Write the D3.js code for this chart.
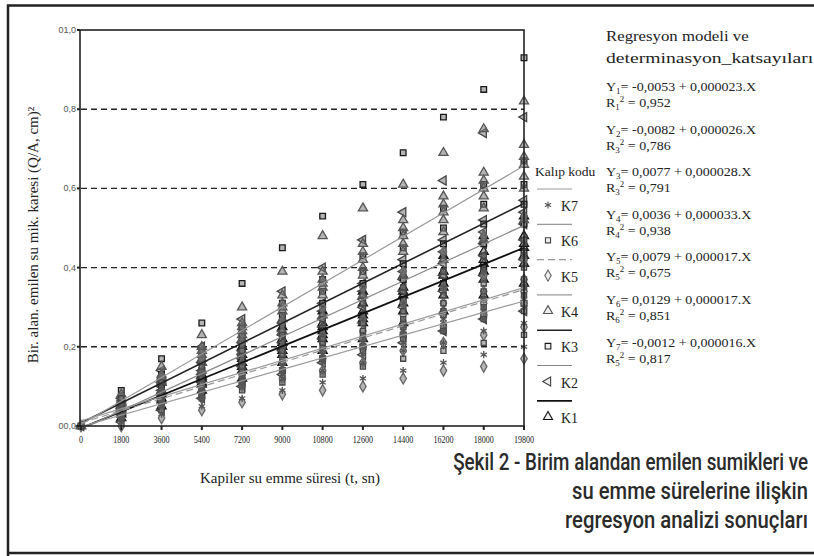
<!DOCTYPE html>
<html>
<head>
<meta charset="utf-8">
<script src="https://cdn.jsdelivr.net/npm/d3@7/dist/d3.min.js"></script>
<style>body{margin:0;background:#fff;}</style>
</head>
<body>
<svg id="svg" width="814" height="556"></svg>
<script>
// x values (s) and axis labels
const times=[0,1800,3600,5400,7200,9000,10800,12600,14400,16200,18000,19800];
const xTickLabels=["0","1800","3600","5400","7200","9000","10800","12600","14400","16200","18000","19800"];
const yTicks=[0,0.2,0.4,0.6,0.8,1.0];
const yTickLabels=["00,0","0,2","0,4","0,6","0,8","01,0"];
const gridValues=[0.2,0.4,0.6,0.8];

// regression models K1..K7
const series=["K1","K2","K3","K4","K5","K6","K7"];
const intercepts=[-0.0053,-0.0082,0.0077,0.0036,0.0079,0.0129,-0.0012];
const slopes=[0.000023,0.000026,0.000028,0.000033,0.000017,0.000017,0.000016];
const r2=["0,952","0,786","0,791","0,938","0,675","0,851","0,817"];
const rSub=["1","3","3","4","5","6","5"];

// measured points, one list per time
const k1=[[0],[0.02,0.03,0.035,0.04,0.045,0.05,0.06],[0.05,0.065,0.07,0.08,0.085,0.09,0.11],[0.09,0.105,0.11,0.12,0.125,0.13,0.16],[0.12,0.14,0.15,0.16,0.17,0.18,0.20],[0.16,0.18,0.19,0.20,0.21,0.22,0.25],[0.19,0.22,0.23,0.24,0.25,0.26,0.29],[0.22,0.26,0.27,0.28,0.29,0.31,0.34],[0.26,0.29,0.31,0.33,0.34,0.35,0.38],[0.29,0.33,0.35,0.36,0.38,0.39,0.43],[0.33,0.37,0.39,0.41,0.42,0.44,0.48],[0.36,0.41,0.43,0.45,0.46,0.48,0.53]];
const k2=[[0],[0.01,0.03,0.035,0.04,0.045,0.05,0.07],[0.04,0.07,0.08,0.09,0.10,0.11,0.14],[0.07,0.11,0.12,0.13,0.14,0.16,0.20],[0.10,0.15,0.17,0.18,0.19,0.21,0.27],[0.13,0.19,0.21,0.23,0.24,0.26,0.34],[0.16,0.22,0.25,0.27,0.29,0.31,0.40],[0.18,0.26,0.30,0.32,0.34,0.36,0.47],[0.21,0.30,0.34,0.37,0.39,0.42,0.54],[0.24,0.34,0.38,0.41,0.44,0.47,0.62],[0.27,0.38,0.43,0.46,0.49,0.52,0.74],[0.29,0.42,0.47,0.51,0.54,0.57,0.78]];
const k3=[[0],[0.02,0.04,0.05,0.06,0.065,0.07,0.09],[0.05,0.08,0.10,0.11,0.12,0.13,0.17],[0.08,0.12,0.14,0.16,0.17,0.19,0.26],[0.11,0.16,0.19,0.21,0.23,0.25,0.36],[0.14,0.20,0.24,0.26,0.28,0.31,0.45],[0.17,0.24,0.28,0.31,0.34,0.37,0.53],[0.20,0.28,0.33,0.36,0.39,0.43,0.61],[0.23,0.32,0.37,0.41,0.45,0.49,0.69],[0.25,0.36,0.42,0.46,0.50,0.55,0.78],[0.28,0.40,0.46,0.51,0.56,0.61,0.85],[0.31,0.44,0.51,0.56,0.61,0.67,0.93]];
const k4=[[0],[0.04,0.05,0.055,0.06,0.065,0.07,0.08],[0.09,0.11,0.115,0.12,0.125,0.13,0.15],[0.14,0.16,0.17,0.18,0.19,0.20,0.23],[0.19,0.22,0.23,0.24,0.25,0.26,0.30],[0.24,0.27,0.29,0.30,0.31,0.33,0.39],[0.28,0.33,0.35,0.36,0.37,0.39,0.48],[0.33,0.38,0.40,0.42,0.44,0.46,0.55],[0.38,0.44,0.46,0.48,0.50,0.52,0.61],[0.42,0.49,0.52,0.54,0.56,0.58,0.69],[0.47,0.55,0.58,0.60,0.62,0.64,0.75],[0.52,0.60,0.63,0.66,0.68,0.71,0.82]];
const k5=[[0],[0.00,0.02,0.03,0.04,0.045,0.05,0.07],[0.02,0.05,0.06,0.07,0.08,0.09,0.12],[0.04,0.07,0.09,0.10,0.11,0.13,0.17],[0.06,0.10,0.12,0.13,0.14,0.16,0.21],[0.08,0.12,0.14,0.16,0.18,0.20,0.26],[0.09,0.14,0.17,0.19,0.21,0.23,0.30],[0.10,0.16,0.20,0.22,0.24,0.27,0.35],[0.12,0.19,0.23,0.25,0.28,0.31,0.39],[0.14,0.21,0.25,0.28,0.31,0.35,0.44],[0.15,0.23,0.28,0.31,0.34,0.38,0.48],[0.17,0.25,0.31,0.34,0.37,0.42,0.53]];
const k6=[[0],[0.02,0.03,0.04,0.045,0.05,0.055,0.07],[0.04,0.06,0.07,0.075,0.08,0.09,0.11],[0.07,0.09,0.10,0.105,0.11,0.12,0.15],[0.09,0.12,0.13,0.135,0.14,0.15,0.19],[0.11,0.14,0.16,0.17,0.18,0.19,0.23],[0.13,0.17,0.19,0.20,0.21,0.22,0.27],[0.15,0.19,0.22,0.23,0.24,0.26,0.31],[0.17,0.22,0.25,0.26,0.27,0.29,0.35],[0.19,0.24,0.28,0.29,0.31,0.33,0.39],[0.21,0.27,0.30,0.32,0.34,0.36,0.43],[0.23,0.29,0.33,0.35,0.37,0.40,0.47]];
const k7=[[0],[0.01,0.02,0.025,0.03,0.035,0.04,0.05],[0.03,0.05,0.055,0.06,0.065,0.07,0.09],[0.05,0.07,0.08,0.09,0.095,0.10,0.13],[0.07,0.10,0.105,0.11,0.12,0.13,0.16],[0.09,0.12,0.13,0.14,0.15,0.16,0.20],[0.11,0.14,0.16,0.17,0.18,0.19,0.23],[0.12,0.16,0.18,0.20,0.21,0.22,0.27],[0.14,0.19,0.21,0.23,0.24,0.25,0.31],[0.16,0.21,0.24,0.26,0.27,0.29,0.35],[0.18,0.24,0.27,0.29,0.30,0.32,0.39],[0.20,0.26,0.30,0.32,0.33,0.35,0.43]];
const points=[k1,k2,k3,k4,k5,k6,k7];

// styles per series (K1..K7)
const markColor=["#111","#444","#1a1a1a","#555","#666","#444","#555"];
const lineColor=["#111","#888","#222","#999","#999","#999","#999"];
const lineWidth=[1.8,1.2,1.6,1.2,1.2,1.2,1.2];
const lineDash=[null,null,null,null,"7,4",null,null];
const shapes=[d3.symbolTriangle,d3.symbolTriangle,d3.symbolSquare,d3.symbolTriangle,d3.symbolDiamond,d3.symbolSquare,d3.symbolAsterisk];
const rotate=[0,-90,0,0,0,0,0];
const sizes=[36,36,32,36,36,26,36];

const serif="'Liberation Serif','Times New Roman',serif";
const svg=d3.select("#svg");

// outer frame
svg.append("path").attr("d","M8,556 L8,5.5 L814,5.5 M8,553 L814,553").attr("fill","none").attr("stroke","#222").attr("stroke-width",2.5);

const x=d3.scaleLinear().domain([0,19800]).range([81,524]);
const y=d3.scaleLinear().domain([0,1]).range([426,30]);

svg.append("clipPath").attr("id","plot").append("rect").attr("x",80).attr("y",30).attr("width",445).attr("height",396);

// dashed grid
svg.selectAll(".grid").data(gridValues).enter().append("line")
    .attr("x1",x(0)).attr("x2",x(19800)).attr("y1",d=>y(d)).attr("y2",d=>y(d))
    .attr("stroke","#222").attr("stroke-width",1.4).attr("stroke-dasharray","6,4");

// points
for(let s=0;s<series.length;s++)
{
    let sym=d3.symbol().type(shapes[s]).size(sizes[s]);
    for(let t=0;t<times.length;t++)
    {
        for(let v of points[s][t])
        {
            svg.append("path").attr("d",sym())
                .attr("transform","translate("+x(times[t])+","+y(v)+") rotate("+rotate[s]+")")
                .attr("fill","#777").attr("fill-opacity",0.55)
                .attr("stroke",markColor[s]).attr("stroke-width",1.3);
        }
    }
}

// regression lines
for(let s=0;s<series.length;s++)
{
    svg.append("line").attr("clip-path","url(#plot)")
        .attr("x1",x(0)).attr("y1",y(intercepts[s]))
        .attr("x2",x(19800)).attr("y2",y(intercepts[s]+slopes[s]*19800))
        .attr("stroke",lineColor[s]).attr("stroke-width",lineWidth[s])
        .attr("stroke-dasharray",lineDash[s]);
}

// plot box
svg.append("rect").attr("x",80).attr("y",30).attr("width",444).attr("height",396)
    .attr("fill","none").attr("stroke","#222").attr("stroke-width",1.6);

// x ticks
svg.selectAll(".xt").data(times).enter().append("line")
    .attr("x1",d=>x(d)).attr("x2",d=>x(d)).attr("y1",426).attr("y2",430)
    .attr("stroke","#222").attr("stroke-width",2);
svg.selectAll(".xl").data(times).enter().append("text")
    .attr("x",0).attr("y",0).attr("text-anchor","middle")
    .style("font-family",serif).style("font-size","9.5px").style("fill","#222")
    .attr("transform",d=>"translate("+x(d)+",443) scale(0.85,1)")
    .text((d,i)=>xTickLabels[i]);

// y ticks
svg.selectAll(".yt").data(yTicks).enter().append("line")
    .attr("x1",77).attr("x2",80).attr("y1",d=>y(d)).attr("y2",d=>y(d))
    .attr("stroke","#222").attr("stroke-width",2);
svg.selectAll(".yl").data(yTicks).enter().append("text")
    .attr("x",76).attr("y",d=>y(d)+3).attr("text-anchor","end")
    .style("font-family","'Liberation Sans',Arial,sans-serif").style("font-size","9px").style("fill","#555")
    .text((d,i)=>yTickLabels[i]);

// axis titles
svg.append("text").attr("transform","translate(38,235) rotate(-90)").attr("text-anchor","middle")
    .style("font-family",serif).style("font-size","15px").style("fill","#222")
    .text("Bir. alan. emilen su mik. karesi (Q/A, cm)²");
svg.append("text").attr("x",290).attr("y",483).attr("text-anchor","middle")
    .style("font-family",serif).style("font-size","15px").style("fill","#222")
    .text("Kapiler su emme süresi (t, sn)");

// legend
svg.append("text").attr("x",535).attr("y",176)
    .style("font-family",serif).style("font-size","13.5px").style("fill","#222").text("Kalıp kodu");
for(let i=0;i<series.length;i++)
{
    let s=series.length-1-i;
    let ly=189+i*35.3;
    svg.append("line").attr("x1",537).attr("x2",572).attr("y1",ly).attr("y2",ly)
        .attr("stroke",lineColor[s]).attr("stroke-width",lineWidth[s]).attr("stroke-dasharray",lineDash[s]);
    svg.append("path").attr("d",d3.symbol().type(shapes[s]).size(sizes[s])())
        .attr("transform","translate(548,"+(ly+16)+") rotate("+rotate[s]+")")
        .attr("fill","#eee").attr("stroke",markColor[s]).attr("stroke-width",1.1);
    svg.append("text").attr("x",561).attr("y",ly+22)
        .style("font-family",serif).style("font-size","14px").style("fill","#222").text(series[s]);
}

// equations
const eq=svg.append("g").attr("transform","translate(606,0) scale(1.12,1)");
eq.append("text").attr("x",0).attr("y",41)
    .style("font-family",serif).style("font-size","15px").style("fill","#222").text("Regresyon modeli ve");
eq.append("text").attr("x",0).attr("y",63).attr("textLength",185).attr("lengthAdjust","spacingAndGlyphs")
    .style("font-family",serif).style("font-size","15px").style("fill","#222").text("determinasyon_katsayıları");
const fmt=v=>(v<0?"-":" ")+Math.abs(v).toFixed(4).replace(".",",");
for(let s=0;s<series.length;s++)
{
    let ey=91+s*42.6;
    let t1=eq.append("text").attr("x",0).attr("y",ey)
        .style("font-family",serif).style("font-size","12.5px").style("fill","#222");
    t1.append("tspan").text("Y");
    t1.append("tspan").attr("dy",3).style("font-size","8px").text(s+1);
    t1.append("tspan").attr("dy",-3).text("= "+fmt(intercepts[s])+" + "+slopes[s].toFixed(6).replace(".",",")+".X");
    let t2=eq.append("text").attr("x",0).attr("y",ey+16)
        .style("font-family",serif).style("font-size","12.5px").style("fill","#222");
    t2.append("tspan").text("R");
    t2.append("tspan").attr("dy",3).style("font-size","8px").text(rSub[s]);
    t2.append("tspan").attr("dy",-8).style("font-size","8px").text("2");
    t2.append("tspan").attr("dy",5).text(" = "+r2[s]);
}

// caption, squeezed to the condensed width of the original
const caption=["Şekil 2 - Birim alandan emilen sumikleri ve","su emme sürelerine ilişkin","regresyon analizi sonuçları"];
const capLen=[355,236,243];
for(let i=0;i<caption.length;i++)
{
    let t=svg.append("text").attr("x",0).attr("y",0).attr("text-anchor","end")
        .style("font-family","Roboto,sans-serif").style("font-weight",500).style("font-size","24px").style("fill","#2a2a2a")
        .text(caption[i]);
    let k=capLen[i]/t.node().getComputedTextLength();
    t.attr("transform","translate(808,"+(470+i*29)+") scale("+k+",1)");
}
</script>
</body>
</html>
